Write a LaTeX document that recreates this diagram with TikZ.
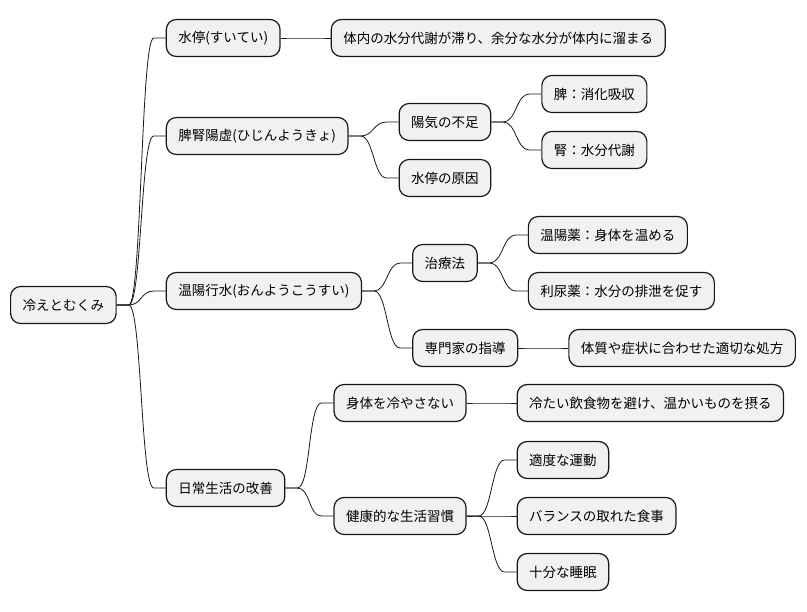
\documentclass[tikz,border=0pt]{standalone}
\usepackage{fontspec}
\newfontfamily\jpfont{Noto Sans CJK JP}
\usetikzlibrary{calc,positioning}
\definecolor{boxfill}{HTML}{F1F1F1}
\definecolor{boxline}{HTML}{181818}
\begin{document}
\begin{tikzpicture}[x=1pt, y=-1pt,
 every node/.style={font=\jpfont\fontsize{13.5}{16}\selectfont},
 topic/.style={draw=boxline,fill=boxfill,line width=1.2pt,rounded corners=10pt,
 minimum height=37pt,inner xsep=12pt},
 link/.style={draw=boxline,line width=0.8pt}]
\useasboundingbox (0,0) rectangle (807,612);
\node[topic,anchor=west] (root) at (10,305) {冷えとむくみ};
\node[topic,right=49pt of root,yshift=267pt] (sui) {水停(すいてい)};
\node[topic,right=50pt of sui] (suia) {体内の水分代謝が滞り、余分な水分が体内に溜まる};
\node[topic,right=49pt of root,yshift=169pt] (hi) {脾腎陽虚(ひじんようきょ)};
\node[topic,right=50pt of hi,yshift=14pt] (yoki) {陽気の不足};
\node[topic,right=50pt of yoki,yshift=28pt] (hia) {脾：消化吸収};
\node[topic,right=50pt of yoki,yshift=-28pt] (jina) {腎：水分代謝};
\node[topic,right=50pt of hi,yshift=-42pt] (gen) {水停の原因};
\node[topic,right=49pt of root,yshift=14pt] (on) {温陽行水(おんようこうすい)};
\node[topic,right=50pt of on,yshift=28pt] (chi) {治療法};
\node[topic,right=50pt of chi,yshift=28pt] (ona) {温陽薬：身体を温める};
\node[topic,right=50pt of chi,yshift=-28pt] (ria) {利尿薬：水分の排泄を促す};
\node[topic,right=50pt of on,yshift=-57pt] (sen) {専門家の指導};
\node[topic,right=50pt of sen] (sena) {体質や症状に合わせた適切な処方};
\node[topic,right=49pt of root,yshift=-183pt] (nichi) {日常生活の改善};
\node[topic,right=48pt of nichi,yshift=85pt] (hie) {身体を冷やさない};
\node[topic,right=50pt of hie] (hiea) {冷たい飲食物を避け、温かいものを摂る};
\node[topic,right=48pt of nichi,yshift=-28pt] (ken) {健康的な生活習慣};
\node[topic,right=50pt of ken,yshift=56pt] (un) {適度な運動};
\node[topic,right=50pt of ken] (bal) {バランスの取れた食事};
\node[topic,right=50pt of ken,yshift=-56pt] (min) {十分な睡眠};
\foreach \a/\b in {root/sui,root/hi,root/on,root/nichi,sui/suia,hi/yoki,hi/gen,
 yoki/hia,yoki/jina,on/chi,on/sen,chi/ona,chi/ria,sen/sena,nichi/hie,nichi/ken,
 hie/hiea,ken/un,ken/bal,ken/min}
 \draw[link] (\a.east) -- ++(12,0) .. controls +(13,0) and +(-13,0)
 .. ($(\b.west)+(-12,0)$) -- (\b.west);
\end{tikzpicture}
\end{document}
